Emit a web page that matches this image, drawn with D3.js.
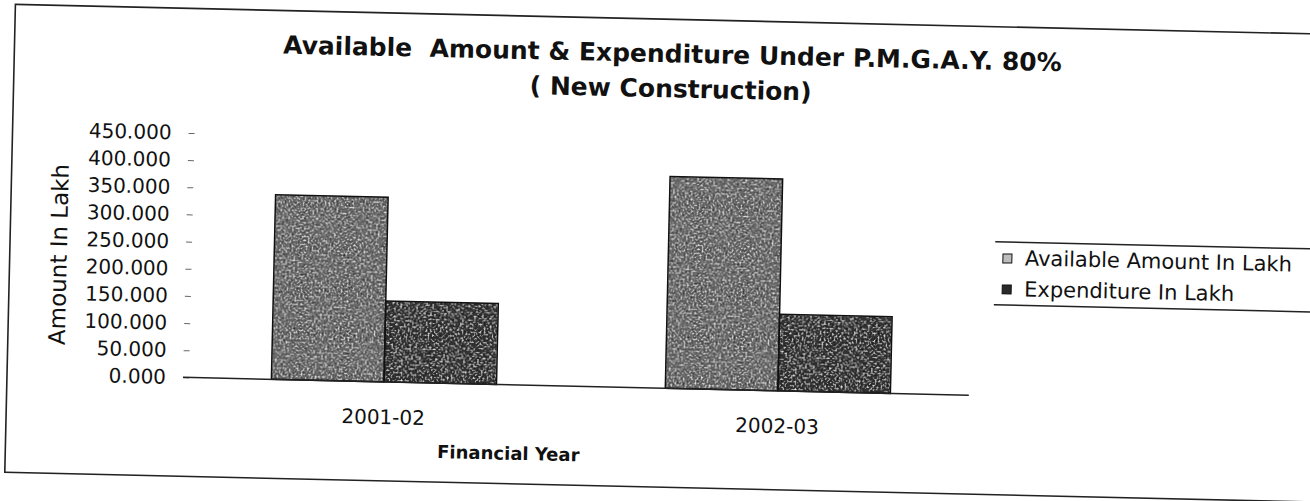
<!DOCTYPE html>
<html>
<head>
<meta charset="utf-8">
<script src="https://cdn.jsdelivr.net/npm/d3@7"></script>
<style>
  body { margin: 0; background: #fff; }
  svg { display: block; }
</style>
</head>
<body>
<div id="graf"></div>
<script>
// datos del grafico
const years = ['2001-02', '2002-03']
const seriesNames = ['Available Amount In Lakh', 'Expenditure In Lakh']
const available = [340, 390]
const expenditure = [149, 141]
const yTicks = [0, 50, 100, 150, 200, 250, 300, 350, 400, 450]

const ancho_total = 1310
const alto_total = 501

const svg = d3.select('#graf').append('svg')
  .attr('width', ancho_total)
  .attr('height', alto_total)

// textura granulada del escaneo
const defs = svg.append('defs')
const f = defs.append('filter').attr('id', 'grain')
  .attr('x', 0).attr('y', 0).attr('width', 1).attr('height', 1)
f.append('feTurbulence').attr('type', 'fractalNoise').attr('baseFrequency', 0.5)
  .attr('numOctaves', 2).attr('seed', 4).attr('result', 'noise')
f.append('feColorMatrix').attr('in', 'noise').attr('type', 'saturate').attr('values', 0).attr('result', 'gray')
const ct = f.append('feComponentTransfer').attr('in', 'gray').attr('result', 'contrast')
;['feFuncR', 'feFuncG', 'feFuncB'].forEach(k => {
  ct.append(k).attr('type', 'linear').attr('slope', 1.7).attr('intercept', -0.38)
})
ct.append('feFuncA').attr('type', 'linear').attr('slope', 0).attr('intercept', 1)
f.append('feBlend').attr('in', 'SourceGraphic').attr('in2', 'contrast').attr('mode', 'overlay').attr('result', 'b')
f.append('feComposite').attr('in', 'b').attr('in2', 'SourceGraphic').attr('operator', 'in')

// todo el grafico esta un poco girado como en el papel
const g = svg.append('g')
  .attr('transform', 'rotate(1.3, 655, 250)')

// borde del area del grafico
g.append('rect')
  .attr('x', 10).attr('y', 19)
  .attr('width', 1330).attr('height', 468)
  .attr('fill', 'none').attr('stroke', '#222').attr('stroke-width', 1.6)

// titulo
g.append('text')
  .attr('x', 668).attr('y', 62)
  .attr('text-anchor', 'middle')
  .attr('font-family', 'DejaVu Sans')
  .attr('font-weight', 'bold')
  .attr('font-size', '25px')
  .attr('fill', '#111')
  .attr('xml:space', 'preserve')
  .text('Available  Amount & Expenditure Under P.M.G.A.Y. 80%')
g.append('text')
  .attr('x', 667).attr('y', 97)
  .attr('text-anchor', 'middle')
  .attr('font-family', 'DejaVu Sans')
  .attr('font-weight', 'bold')
  .attr('font-size', '25px')
  .attr('fill', '#111')
  .text('( New Construction)')

// escaladores
const x0 = d3.scaleBand().domain(years).range([190, 978])
const barW = x0.bandwidth() / 3.5
const x1 = d3.scaleBand().domain(seriesNames)
  .range([(x0.bandwidth() - 2 * barW) / 2, (x0.bandwidth() + 2 * barW) / 2])
const y = d3.scaleLinear().domain([0, 450]).range([388, 143.5])
const color = d3.scaleOrdinal().domain(seriesNames).range(['#6e6e6e', '#363636'])

// eje y
const yAxis = d3.axisLeft(y)
  .tickValues(yTicks)
  .tickSize(6)
  .tickPadding(17)
  .tickFormat(d3.format('.3f'))
const yG = g.append('g')
  .attr('transform', 'translate(192,0)')
  .call(yAxis)
yG.select('.domain').remove()
yG.selectAll('line').attr('stroke', '#666')
yG.selectAll('text')
  .attr('font-family', 'DejaVu Sans')
  .attr('font-size', '20px')
  .attr('fill', '#111')

g.append('text')
  .attr('transform', 'translate(67,268) rotate(-90)')
  .attr('text-anchor', 'middle')
  .attr('font-family', 'DejaVu Sans')
  .attr('font-size', '23px')
  .attr('fill', '#111')
  .text('Amount In Lakh')

// barras
const rows = years.map((d, i) => ({ year: d, values: [available[i], expenditure[i]] }))
const grupos = g.selectAll('g.grupo')
  .data(rows)
  .join('g')
  .attr('class', 'grupo')
  .attr('transform', d => `translate(${x0(d.year)},0)`)
grupos.selectAll('rect')
  .data(d => d.values.map((v, j) => ({ serie: seriesNames[j], v })))
  .join('rect')
  .attr('x', d => x1(d.serie))
  .attr('y', d => y(d.v))
  .attr('width', x1.bandwidth())
  .attr('height', d => y(0) - y(d.v))
  .attr('fill', d => color(d.serie))
  .attr('filter', 'url(#grain)')
grupos.selectAll('rect.borde')
  .data(d => d.values.map((v, j) => ({ serie: seriesNames[j], v })))
  .join('rect')
  .attr('class', 'borde')
  .attr('x', d => x1(d.serie))
  .attr('y', d => y(d.v))
  .attr('width', x1.bandwidth())
  .attr('height', d => y(0) - y(d.v))
  .attr('fill', 'none')
  .attr('stroke', '#111')
  .attr('stroke-width', 1.5)

// eje x
const xAxis = d3.axisBottom(x0).tickSize(0).tickPadding(28)
const xG = g.append('g')
  .attr('transform', `translate(0,${y(0)})`)
  .call(xAxis)
xG.select('.domain').remove()
xG.selectAll('text')
  .attr('font-family', 'DejaVu Sans')
  .attr('font-size', '20px')
  .attr('fill', '#111')
g.append('line')
  .attr('x1', 186).attr('x2', 972)
  .attr('y1', y(0)).attr('y2', y(0))
  .attr('stroke', '#222').attr('stroke-width', 1.5)

g.append('text')
  .attr('x', 513).attr('y', 463)
  .attr('text-anchor', 'middle')
  .attr('font-family', 'DejaVu Sans')
  .attr('font-weight', 'bold')
  .attr('font-size', '18px')
  .attr('fill', '#111')
  .text('Financial Year')

// leyenda
const leg = g.append('g').attr('transform', 'translate(995,234)')
leg.append('line').attr('x1', 0).attr('x2', 340).attr('y1', 0).attr('y2', 0)
  .attr('stroke', '#222').attr('stroke-width', 1.5)
leg.append('line').attr('x1', 0).attr('x2', 340).attr('y1', 63).attr('y2', 63)
  .attr('stroke', '#222').attr('stroke-width', 1.5)
seriesNames.forEach((d, i) => {
  leg.append('rect')
    .attr('x', 8).attr('y', 12 + i * 31)
    .attr('width', 9).attr('height', 9)
    .attr('fill', i == 0 ? '#bdbdbd' : '#2a2a2a')
    .attr('stroke', '#111')
  leg.append('text')
    .attr('x', 30).attr('y', 23 + i * 31)
    .attr('font-family', 'DejaVu Sans')
    .attr('font-size', '21px')
    .attr('fill', '#111')
    .text(d)
})
</script>
</body>
</html>
